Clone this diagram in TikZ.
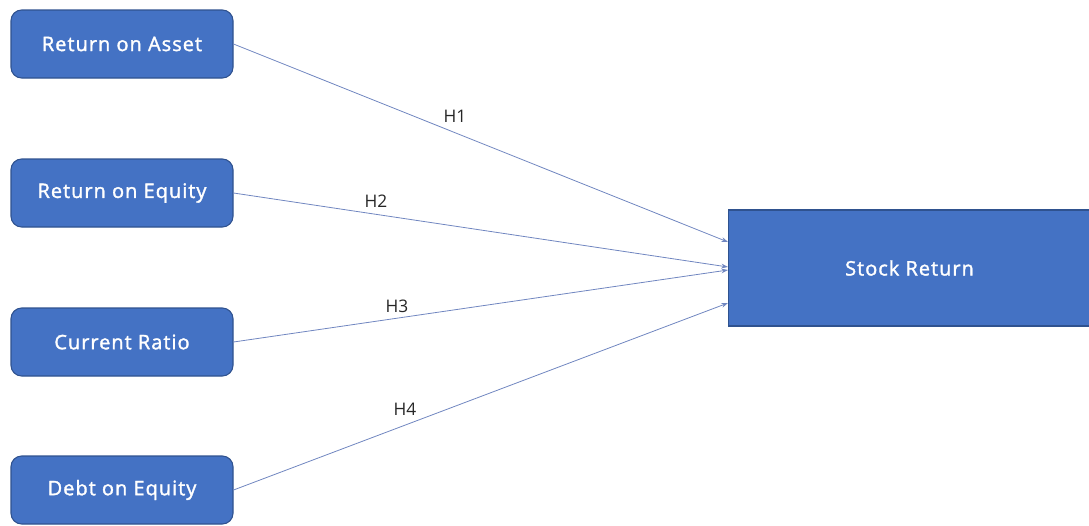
\documentclass[tikz,border=0pt]{standalone}
\usepackage{fontspec}
\setmainfont{Open Sans}
\newfontfamily\boxfont[LetterSpace=5,FakeBold=1.6]{Open Sans}
\usetikzlibrary{arrows.meta}
\definecolor{boxblue}{HTML}{4472C4}
\definecolor{boxedge}{HTML}{2F528F}
\definecolor{linkline}{HTML}{7086C0}
\tikzset{
  varbox/.style={draw=boxedge, line width=0.8pt, fill=boxblue, rounded corners=8pt,
    minimum width=166.5pt, minimum height=51pt, text=white,
    font=\boxfont\fontsize{15}{17}\selectfont},
  outbox/.style={draw=boxedge, line width=0.8pt, fill=boxblue,
    minimum width=271.5pt, minimum height=87pt, text=white,
    font=\boxfont\fontsize{15}{17}\selectfont},
  link/.style={draw=linkline, line width=0.6pt, -{Stealth[length=5pt,width=3.5pt]}},
  hlabel/.style={font=\fontsize{13}{15}\selectfont, text=black!85}
}
\begin{document}
\begin{tikzpicture}[x=0.75pt,y=-0.75pt]
\useasboundingbox (0,0) rectangle (1089,525);
\node[varbox] (roa) at (122,44) {Return on Asset};
\node[varbox] (roe) at (122,193) {Return on Equity};
\node[varbox] (cr)  at (122,342) {Current Ratio};
\node[varbox] (der) at (122,490) {Debt on Equity};
\node[outbox, anchor=west] (sr) at (728,268) {Stock Return};
\coordinate (t1) at (728,242);
\coordinate (t2) at (728,267);
\coordinate (t3) at (728,270);
\coordinate (t4) at (728,303);
\draw[link] (roa.east) -- (t1);
\draw[link] (roe.east) -- (t2);
\draw[link] (cr.east) -- (t3);
\draw[link] (der.east) -- (t4);
\node[hlabel] (h1) at (455,116) {H1};
\node[hlabel] (h2) at (376,201) {H2};
\node[hlabel] (h3) at (397,306) {H3};
\node[hlabel] (h4) at (405,409) {H4};
\end{tikzpicture}
\end{document}
